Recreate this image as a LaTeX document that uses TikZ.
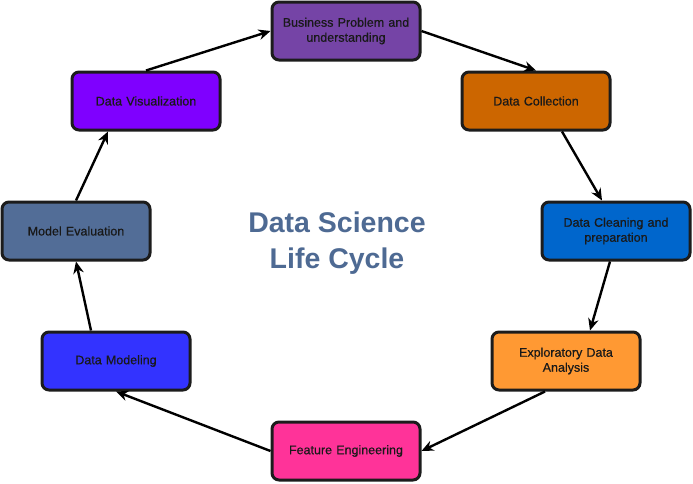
\documentclass[tikz,border=0pt]{standalone}
\usepackage{fontspec}
\setmainfont{Liberation Sans}
\newfontfamily\boxfont{Liberation Sans}[FakeBold=0.5]
\usetikzlibrary{arrows.meta,positioning}
\definecolor{bizColor}{HTML}{7544A6}
\definecolor{collColor}{HTML}{CC6600}
\definecolor{cleanColor}{HTML}{0066CC}
\definecolor{edaColor}{HTML}{FF9933}
\definecolor{featColor}{HTML}{FF3399}
\definecolor{modelColor}{HTML}{3333FF}
\definecolor{evalColor}{HTML}{526D97}
\definecolor{vizColor}{HTML}{7F00FF}
\definecolor{titleColor}{HTML}{4E6A93}
\definecolor{edgeColor}{HTML}{1C1C1C}
\tikzset{
  stage/.style={draw=edgeColor, line width=3pt, rounded corners=7pt,
    minimum width=148pt, minimum height=58pt, text width=140pt, align=center,
    font=\boxfont\fontsize{12.5}{15}\selectfont, text=black!90},
  flow/.style={-{Stealth[length=12pt,width=10.5pt]}, line width=2.4pt, black}
}
\begin{document}
\begin{tikzpicture}[x=1pt,y=-1pt]
  \useasboundingbox (0,0) rectangle (693,483);
  % stages of the cycle
  \node (business) [stage, fill=bizColor] at (346,31) {Business Problem and\\understanding};
  \node (collection) [stage, fill=collColor] at (536,101) {Data Collection};
  \node (cleaning) [stage, fill=cleanColor] at (616,231) {Data Cleaning and\\preparation};
  \node (eda) [stage, fill=edaColor] at (566,361) {Exploratory Data\\Analysis};
  \node (feature) [stage, fill=featColor] at (346,451) {Feature Engineering};
  \node (modeling) [stage, fill=modelColor] at (116,361) {Data Modeling};
  \node (evaluation) [stage, fill=evalColor] at (76,231) {Model Evaluation};
  \node (visual) [stage, fill=vizColor] at (146,101) {Data Visualization};
  % title
  \node (title) [align=center, text=titleColor, font=\fontsize{28.5}{36}\selectfont\bfseries]
    at (337,243) {Data Science\\Life Cycle};
  % arrows
  \draw[flow] (visual.north) -- (business.west);
  \draw[flow] (business.east) -- (collection.north);
  \draw[flow] ([xshift=26pt]collection.south) -- ([xshift=-14pt]cleaning.north);
  \draw[flow] ([xshift=-6pt]cleaning.south) -- ([xshift=24pt]eda.north);
  \draw[flow] ([xshift=-21pt]eda.south) -- (feature.east);
  \draw[flow] (feature.west) -- (modeling.south);
  \draw[flow] ([xshift=-25pt]modeling.north) -- (evaluation.south);
  \draw[flow] (evaluation.north) -- ([xshift=-38pt]visual.south);
\end{tikzpicture}
\end{document}
